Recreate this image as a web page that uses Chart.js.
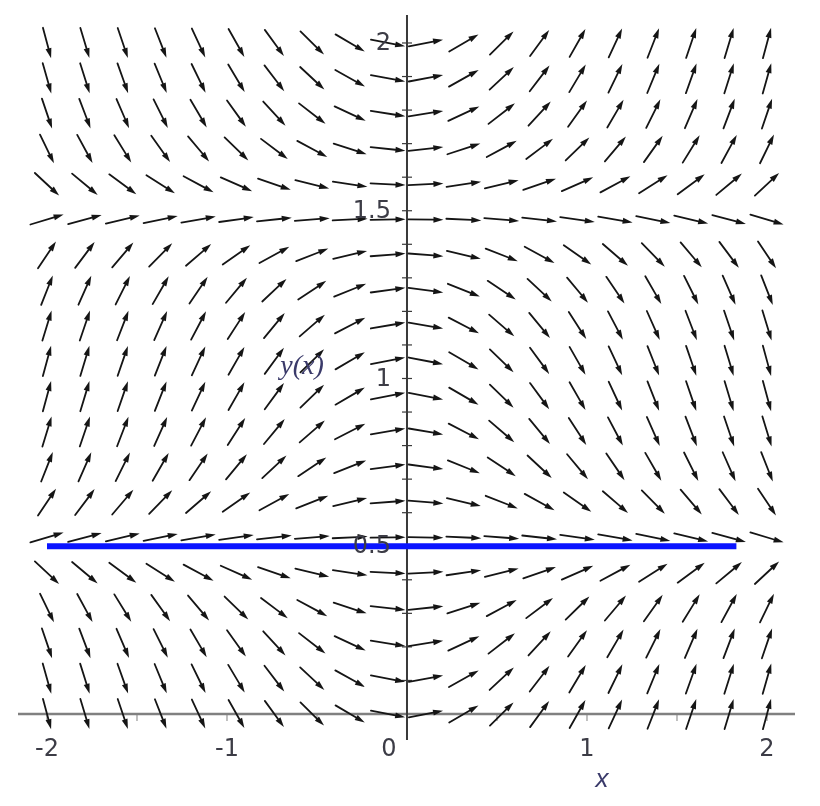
<!DOCTYPE html>
<html>
<head>
<meta charset="utf-8">
<script src="https://cdn.jsdelivr.net/npm/chart.js@4"></script>
<style>
html,body{margin:0;padding:0;background:#fff;}
canvas{display:block;}
</style>
</head>
<body>
<canvas id="c" width="820" height="806"></canvas>
<script>
// Direction field grid (20 x 20)
const gridX = [-2, -1.7895, -1.5789, -1.3684, -1.1579, -0.9474, -0.7368, -0.5263, -0.3158, -0.1053,
               0.1053, 0.3158, 0.5263, 0.7368, 0.9474, 1.1579, 1.3684, 1.5789, 1.7895, 2];
const gridY = [0, 0.1053, 0.2105, 0.3158, 0.4211, 0.5263, 0.6316, 0.7368, 0.8421, 0.9474,
               1.0526, 1.1579, 1.2632, 1.3684, 1.4737, 1.5789, 1.6842, 1.7895, 1.8947, 2];
// slope of the arrows in each row, per unit of x (dy/dx = x * factor)
const rowSlopeFactor = [1.00, 0.95, 0.79, 0.55, 0.25, -0.08, -0.40, -0.68, -0.88, -0.99,
                        -0.99, -0.88, -0.68, -0.40, -0.08, 0.25, 0.55, 0.79, 0.95, 1.00];
// solution curve y(x) = 1/2
const solutionX = [-2, 1.83];
const solutionY = [0.5, 0.5];
// tick labels
const xTickValues = [-2, -1, 0, 1, 2];
const xTickLabels = ['-2', '-1', '0', '1', '2'];
const yTickValues = [0.5, 1, 1.5, 2];
const yTickLabels = ['0.5', '1', '1.5', '2'];
const xMinorTicks = [-2, -1.5, -1, -0.5, 0.5, 1, 1.5, 2];
const yMinorTicks = [0.1,0.2,0.3,0.4,0.5,0.6,0.7,0.8,0.9,1.0,1.1,1.2,1.3,1.4,1.5,1.6,1.7,1.8,1.9,2.0];
const xAxisTitle = 'x';
const yAxisTitle = 'y(x)';

const fieldPoints = [];
const fieldSlopes = [];
gridY.forEach((y, j) => {
  gridX.forEach((x) => {
    fieldPoints.push({x: x, y: y});
    fieldSlopes.push(x * rowSlopeFactor[j]);
  });
});

const solutionData = solutionX.map((x, i) => ({x: x, y: solutionY[i]}));

const fieldPlugin = {
  id: 'field',
  beforeDatasetsDraw(chart) {
    const ctx = chart.ctx;
    const xs = chart.scales.x, ys = chart.scales.y;
    const px = v => xs.getPixelForValue(v);
    const py = v => ys.getPixelForValue(v);
    ctx.save();
    // axes
    ctx.lineCap = 'butt';
    ctx.strokeStyle = '#808080';
    ctx.lineWidth = 2.5;
    ctx.beginPath();
    ctx.moveTo(px(xs.min), py(0));
    ctx.lineTo(px(xs.max), py(0));
    ctx.stroke();
    ctx.lineWidth = 1;
    xMinorTicks.forEach(v => {
      ctx.beginPath();
      ctx.moveTo(px(v), py(0));
      ctx.lineTo(px(v), py(0) + 7);
      ctx.stroke();
    });
    ctx.strokeStyle = '#3a3a3a';
    ctx.lineWidth = 2;
    ctx.beginPath();
    ctx.moveTo(px(0), py(ys.max));
    ctx.lineTo(px(0), py(ys.min));
    ctx.stroke();
    ctx.lineWidth = 1.2;
    yMinorTicks.forEach(v => {
      ctx.beginPath();
      ctx.moveTo(px(0) - 5, py(v));
      ctx.lineTo(px(0) + 5, py(v));
      ctx.stroke();
    });
    // arrows
    const meta = chart.getDatasetMeta(0);
    const ux1 = px(1) - px(0);
    const uy1 = py(1) - py(0);
    ctx.strokeStyle = '#151515';
    ctx.fillStyle = '#151515';
    ctx.lineWidth = 1.8;
    ctx.lineCap = 'round';
    meta.data.forEach((el, i) => {
      const s = fieldSlopes[i];
      let vx = ux1, vy = uy1 * s;
      const n = Math.hypot(vx, vy);
      vx /= n; vy /= n;
      const L = 35 / Math.sqrt(vx * vx + 1.12 * 1.12 * vy * vy);
      const cx = el.x, cy = el.y;
      const x0 = cx - vx * L / 2, y0 = cy - vy * L / 2;
      const x1 = cx + vx * L / 2, y1 = cy + vy * L / 2;
      const hb = 10, hw = 3;
      const bx = x1 - vx * hb, by = y1 - vy * hb;
      ctx.beginPath();
      ctx.moveTo(x0, y0);
      ctx.lineTo(bx, by);
      ctx.stroke();
      ctx.beginPath();
      ctx.moveTo(x1, y1);
      ctx.lineTo(bx - vy * hw, by + vx * hw);
      ctx.lineTo(bx + vy * hw, by - vx * hw);
      ctx.closePath();
      ctx.fill();
    });
    ctx.restore();
  },
  afterDatasetsDraw(chart) {
    const ctx = chart.ctx;
    const xs = chart.scales.x, ys = chart.scales.y;
    const px = v => xs.getPixelForValue(v);
    const py = v => ys.getPixelForValue(v);
    ctx.save();
    ctx.fillStyle = '#3c3c46';
    ctx.font = '24px "DejaVu Sans"';
    ctx.textBaseline = 'alphabetic';
    ctx.textAlign = 'center';
    xTickValues.forEach((v, i) => {
      let x = px(v);
      if (v === 0) x = px(0) - 18;
      ctx.fillText(xTickLabels[i], x, py(0) + 42);
    });
    ctx.textAlign = 'right';
    ctx.textBaseline = 'middle';
    yTickValues.forEach((v, i) => {
      ctx.fillText(yTickLabels[i], px(0) - 16, py(v) + 1);
    });
    ctx.fillStyle = '#3a3a6a';
    ctx.font = 'italic 26px "Liberation Sans"';
    ctx.textAlign = 'center';
    ctx.textBaseline = 'middle';
    ctx.fillText(xAxisTitle, px(1.083), py(-0.195));
    ctx.font = 'italic 28px "Liberation Serif"';
    ctx.fillText(yAxisTitle, px(-0.583), py(1.035));
    ctx.restore();
  }
};

new Chart(document.getElementById('c'), {
  type: 'scatter',
  data: {
    datasets: [
      {
        label: 'field',
        data: fieldPoints,
        pointRadius: 0,
        pointHoverRadius: 0,
        showLine: false
      },
      {
        label: 'solution',
        data: solutionData,
        showLine: true,
        borderColor: '#0a14ff',
        borderWidth: 6,
        pointRadius: 0,
        borderCapStyle: 'butt',
        fill: false
      }
    ]
  },
  options: {
    responsive: false,
    animation: false,
    devicePixelRatio: 1,
    events: [],
    layout: { padding: { left: 18, right: 25, top: 15, bottom: 66 } },
    plugins: { legend: { display: false }, tooltip: { enabled: false } },
    scales: {
      x: { type: 'linear', display: false, min: -2.1611, max: 2.1556 },
      y: { type: 'linear', display: false, min: -0.0775, max: 2.0834 }
    }
  },
  plugins: [fieldPlugin]
});
</script>
</body>
</html>
